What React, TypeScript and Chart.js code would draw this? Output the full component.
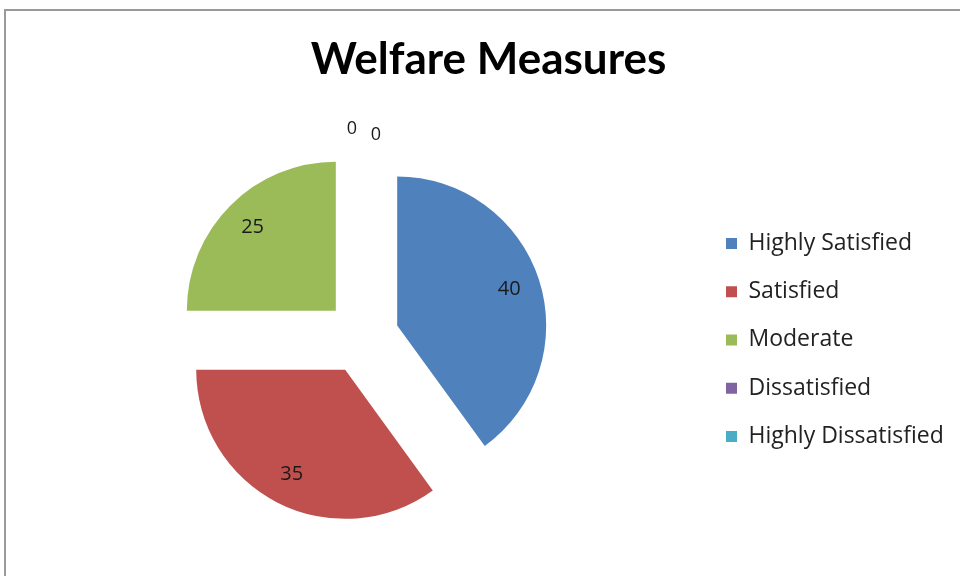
import React, { useEffect, useRef } from "react";
import { Chart, registerables } from "chart.js";

Chart.register(...registerables);

const categories = ["Highly Satisfied", "Satisfied", "Moderate", "Dissatisfied", "Highly Dissatisfied"];
const values = [40, 35, 25, 0, 0];
const colors = ["#4F81BD", "#C0504D", "#9BBB59", "#8064A2", "#4BACC6"];
const titleText = "Welfare Measures";

const TITLE_FONT = "Lato, 'Open Sans', sans-serif";
const FONT = "'Open Sans', Lato, sans-serif";

// Chart.js enlarges exploded arcs by offset*(1-sin(circumference)) and trims their angles;
// undo that so every exploded slice keeps the same radius and its exact angle.
const explodeFixPlugin = {
  id: "explodeFix",
  afterDatasetUpdate(chart: any, args: any) {
    const meta = args.meta;
    meta.data.forEach((arc: any) => {
      const off = (arc.options.offset || 0) / 4;
      const circ = arc.circumference || 0;
      if (!circ) return;
      const fix = 1 - Math.sin(Math.min(Math.PI, circ));
      const radiusOffset = off * fix;
      const R = arc.outerRadius;
      arc.$visualRadius = R;
      arc.outerRadius = R - radiusOffset;
      const angleOffset = radiusOffset / (2 * Math.PI * R);
      arc.startAngle -= angleOffset;
      arc.endAngle += angleOffset;
    });
  },
};

const labelPlugin = {
  id: "sliceLabels",
  afterDatasetsDraw(chart: any) {
    const ctx = chart.ctx;
    const meta = chart.getDatasetMeta(0);
    const data = chart.data.datasets[0].data as number[];
    let zeroIdx = 0;
    ctx.save();
    ctx.textAlign = "center";
    ctx.textBaseline = "middle";
    ctx.fillStyle = "#1a1a1a";
    meta.data.forEach((arc: any, i: number) => {
      const p = arc.getProps(["x", "y", "startAngle", "endAngle", "outerRadius"], true);
      const R = arc.$visualRadius || p.outerRadius;
      // Chart.js translates each arc by offset / 4 along its mid angle
      const off = (arc.options.offset || 0) / 4;
      const mid = (p.startAngle + p.endAngle) / 2;
      const v = data[i];
      if (v > 0) {
        ctx.font = `20px ${FONT}`;
        const d = off + 0.79 * R;
        ctx.fillText(String(v), p.x + Math.cos(mid) * d, p.y + Math.sin(mid) * d);
      } else {
        ctx.font = `18px ${FONT}`;
        const d = off + R + 22;
        const dx = zeroIdx === 0 ? -10 : 14;
        const dy = zeroIdx === 0 ? 0 : 6;
        zeroIdx++;
        ctx.fillText(String(v), p.x + Math.cos(mid) * d + dx, p.y + Math.sin(mid) * d + dy);
      }
    });
    ctx.restore();
  },
};

export default function App() {
  const ref = useRef<HTMLCanvasElement | null>(null);
  useEffect(() => {
    const canvas = ref.current!;
    const mctx = canvas.getContext("2d")!;
    const legendFont = 23;
    mctx.font = `${legendFont}px ${FONT}`;
    let maxW = 0;
    categories.forEach((c) => (maxW = Math.max(maxW, mctx.measureText(c).width)));
    const boxW = 11;
    const lpad = 25.25;
    const legendWidth = lpad + boxW + legendFont / 2 + maxW + 10;
    const legendLeft = 726 - lpad;
    const padRight = Math.max(0, 960 - legendLeft - legendWidth);
    const padLeft = 2 * 362 - legendLeft;
    const chart = new Chart(canvas, {
      type: "pie",
      data: {
        labels: categories,
        datasets: [
          {
            data: values,
            backgroundColor: colors,
            borderWidth: 0,
            offset: 148,
            radius: 149,
          } as any,
        ],
      },
      options: {
        responsive: false,
        animation: false,
        devicePixelRatio: 1,
        layout: { padding: { left: padLeft, right: padRight, top: 0, bottom: 0 } },
        plugins: {
          title: {
            display: true,
            text: titleText,
            color: "#000",
            font: { family: TITLE_FONT, size: 44, weight: "bold" },
            padding: { top: 33, bottom: 12 },
          },
          legend: {
            position: "right",
            fullSize: false,
            title: { display: true, text: " ", font: { size: 5 }, padding: 0 },
            labels: {
              boxWidth: boxW,
              boxHeight: boxW,
              padding: lpad,
              color: "#222",
              font: { family: FONT, size: legendFont },
            },
          },
          tooltip: { enabled: false },
        },
      },
      plugins: [explodeFixPlugin, labelPlugin],
    });
    return () => chart.destroy();
  }, []);
  return (
    <div style={{ position: "absolute", left: 0, top: 0, width: 960, height: 576, background: "#fff", overflow: "hidden" }}>
      <div
        style={{
          position: "absolute",
          left: 4,
          top: 9,
          width: 1000,
          height: 1000,
          borderLeft: "2px solid #9a9a9a",
          borderTop: "2px solid #9a9a9a",
        }}
      />
      <canvas ref={ref} width={960} height={576} style={{ position: "absolute", left: 0, top: 0 }} />
    </div>
  );
}
